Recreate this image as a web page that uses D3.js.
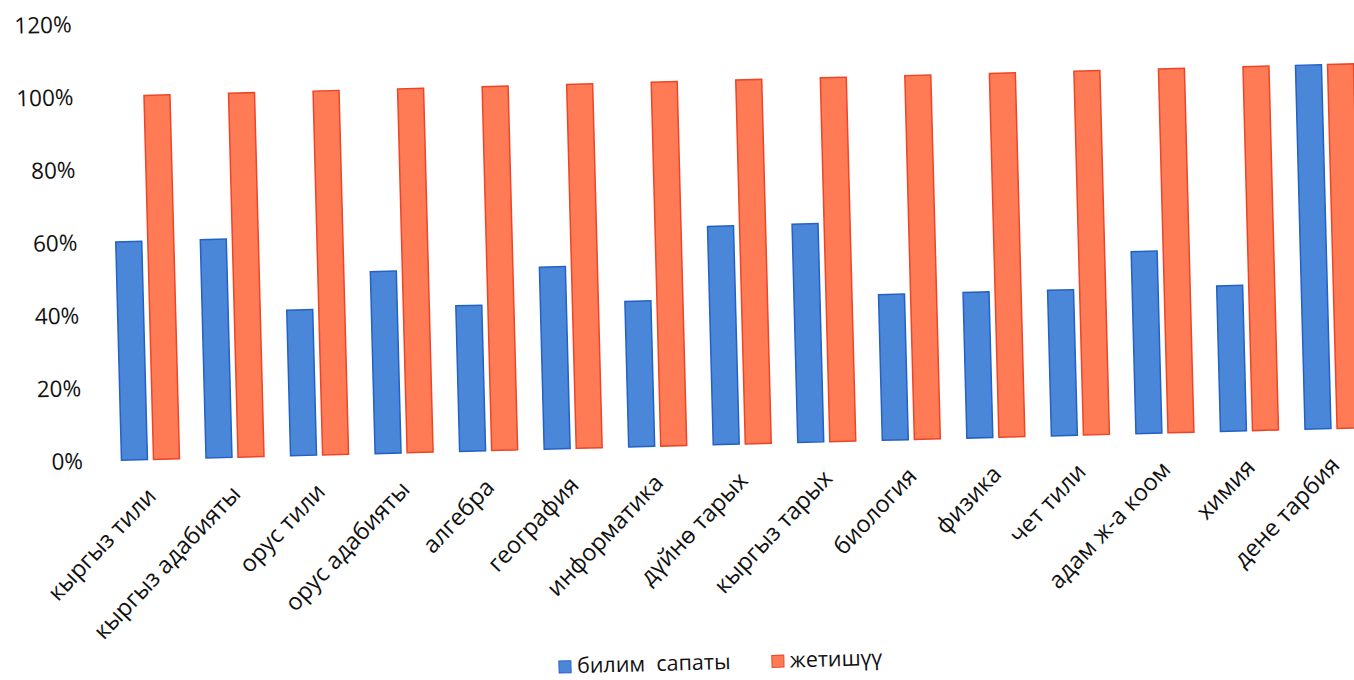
<!DOCTYPE html>
<html>
<head>
<meta charset="utf-8">
<script src="https://cdn.jsdelivr.net/npm/d3@7"></script>
<style>
  html, body { margin: 0; padding: 0; background: #ffffff; }
  svg { display: block; }
</style>
</head>
<body>
<svg id="chart" width="1354" height="680"></svg>
<script>
// ---- data ----
const categories = ["кыргыз тили", "кыргыз адабияты", "орус тили", "орус адабияты", "алгебра", "география", "информатика", "дүйнө тарых", "кыргыз тарых", "биология", "физика", "чет тили", "адам ж-а коом", "химия", "дене тарбия"];
const bilimSapaty = [60, 60, 40, 50, 40, 50, 40, 60, 60, 40, 40, 40, 50, 40, 100];
const jetishuu = [100, 100, 100, 100, 100, 100, 100, 100, 100, 100, 100, 100, 100, 100, 100];
const seriesNames = ["билим  сапаты", "жетишүү"];
const yTicks = [0, 20, 40, 60, 80, 100, 120];

// ---- styles ----
const fills = ["#4a87d9", "#ff7b56"];
const strokes = ["#2461c6", "#ee4527"];
const font = "'Open Sans', 'DejaVu Sans', sans-serif";
const textColor = "#111111";

const svg = d3.select("#chart");
svg.append("rect").attr("width", 1354).attr("height", 680).attr("fill", "#ffffff");

// whole chart is slightly tilted, like the photographed page
const g = svg.append("g").attr("transform", "rotate(-1.5,131,460)");

const y = d3.scaleLinear().domain([0, 120]).range([460, 460 - 1.2 * 364]);
const x0 = d3.scaleBand().domain(categories).range([108.2, 1376.7]).paddingInner(0.314).paddingOuter(0.157);
const x1 = d3.scaleBand().domain([0, 1]).range([0, x0.bandwidth()]).paddingInner(0.19);

// y axis
const yAxis = g.append("g").attr("transform", "translate(83,0)")
  .call(d3.axisLeft(y).tickValues(yTicks).tickFormat(d => d + "%").tickSize(0).tickPadding(0));
yAxis.select(".domain").remove();
yAxis.selectAll("text").attr("font-family", font).attr("font-size", 22.5).attr("fill", textColor);

// bars
const rows = categories.map((c, i) => ({ c, vals: [bilimSapaty[i], jetishuu[i]] }));
const groups = g.selectAll("g.grp").data(rows).join("g").attr("class", "grp")
  .attr("transform", d => `translate(${x0(d.c)},0)`);
groups.selectAll("rect").data(d => d.vals.map((v, k) => ({ v, k }))).join("rect")
  .attr("x", d => x1(d.k))
  .attr("y", d => y(d.v))
  .attr("width", x1.bandwidth())
  .attr("height", d => y(0) - y(d.v))
  .attr("fill", d => fills[d.k])
  .attr("stroke", d => strokes[d.k])
  .attr("stroke-width", 1.5);

// category labels
g.selectAll("text.cat").data(categories).join("text").attr("class", "cat")
  .attr("transform", d => `translate(${x0(d) + x0.bandwidth() / 2 + 6},${y(0) + 38}) rotate(-45)`)
  .attr("text-anchor", "end")
  .attr("font-family", font).attr("font-size", 23.5).attr("fill", textColor)
  .text(d => d);

// legend (same slight tilt, placed on its own)
const legendX = [0, 213];
const legend = svg.append("g").attr("transform", "translate(559,667) rotate(-1.5)");
const leg = legend.selectAll("g.leg").data(seriesNames).join("g").attr("class", "leg")
  .attr("transform", (d, i) => `translate(${legendX[i]},0)`);
leg.append("rect").attr("x", 0).attr("y", -6).attr("width", 12).attr("height", 12)
  .attr("fill", (d, i) => fills[i]).attr("stroke", (d, i) => strokes[i]).attr("stroke-width", 1);
leg.append("text").attr("x", 18).attr("y", 6.5)
  .attr("font-family", font).attr("font-size", 21.5).attr("fill", textColor)
  .style("white-space", "pre")
  .text(d => d);
</script>
</body>
</html>
